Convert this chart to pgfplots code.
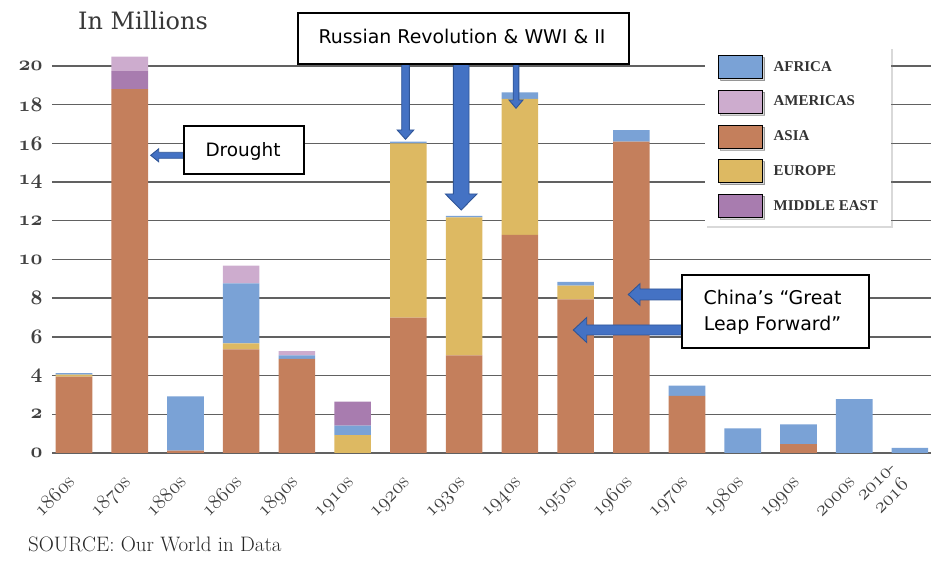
\documentclass[border=0pt]{standalone}
\usepackage{pgfplots}
\pgfplotsset{compat=1.18}
\usepackage{pgfplotstable}
\usepackage{fontspec}
\usetikzlibrary{shadows}
\newfontfamily\annotfont{DejaVu Sans}
\newfontfamily\legserif{Liberation Serif}
\newfontfamily\titleserif{DejaVu Serif}
\newcommand\osn[1]{{\usefont{OML}{cmm}{m}{it}#1}}
\newcommand\osnb[1]{{\usefont{OML}{cmm}{b}{it}#1}}
\definecolor{asia}{HTML}{C47F5C}
\definecolor{europe}{HTML}{DDB962}
\definecolor{africa}{HTML}{7AA2D6}
\definecolor{mideast}{HTML}{A87CAF}
\definecolor{americas}{HTML}{CDACCE}
\definecolor{arrowfill}{HTML}{4472C4}
\definecolor{arrowedge}{HTML}{2F5597}
\pgfplotstableread{
x Asia Europe Africa ME Americas
0 3.95 0.10 0.08 0 0
1 18.80 0 0 0.94 0.74
2 0.12 0 2.80 0 0
3 5.36 0.31 3.10 0 0.91
4 4.86 0 0.19 0 0.22
5 0 0.93 0.48 1.24 0
6 7.00 9.00 0.09 0 0
7 5.05 7.13 0.07 0 0
8 11.27 7.03 0.34 0 0
9 7.94 0.71 0.20 0 0
10 16.09 0 0.60 0 0
11 2.95 0 0.53 0 0
12 0 0 1.27 0 0
13 0.46 0 1.02 0 0
14 0 0 2.79 0 0
15 0 0 0.26 0 0
}\famine
\pgfplotsset{legsw/.style={legend image code/.code={\fill[##1] (0bp,-11.5bp) rectangle (44bp,11.5bp);}}}
\newcommand\harrow[6]{\filldraw[fill=arrowfill, draw=arrowedge, line width=0.9bp] (#1,#2-#4) -- (#3+#6,#2-#4) -- (#3+#6,#2-#5) -- (#3,#2) -- (#3+#6,#2+#5) -- (#3+#6,#2+#4) -- (#1,#2+#4) -- cycle;}
\newcommand\varrow[6]{\filldraw[fill=arrowfill, draw=arrowedge, line width=0.9bp] (#1-#4,#2) -- (#1-#4,#3-#6) -- (#1-#5,#3-#6) -- (#1,#3) -- (#1+#5,#3-#6) -- (#1+#4,#3-#6) -- (#1+#4,#2) -- cycle;}
\begin{document}
\begin{tikzpicture}
\useasboundingbox (0,0) rectangle (931bp,562bp);
\begin{axis}[
  at={(52bp,109bp)}, anchor=south west,
  scale only axis, width=879bp, height=406.35bp,
  xmin=-0.395, xmax=15.378, ymin=0, ymax=21,
  axis line style={draw=none}, major tick length=0pt,
  ybar stacked, bar width=36.6bp,
  ymajorgrids, grid style={black!62, line width=1.4bp},
  ytick={0,2,...,20},
  yticklabels={\osnb{0},\osnb{2},\osnb{4},\osnb{6},\osnb{8},\osnb{10},\osnb{12},\osnb{14},\osnb{16},\osnb{18},\osnb{20}},
  y tick label style={font=\fontsize{21}{21}\selectfont, text=black!75, anchor=east, xshift=-6bp},
  xtick={0,...,15},
  xticklabels={\osn{1860}s,\osn{1870}s,\osn{1880}s,\osn{1860}s,\osn{1890}s,\osn{1910}s,\osn{1920}s,\osn{1930}s,\osn{1940}s,\osn{1950}s,\osn{1960}s,\osn{1970}s,\osn{1980}s,\osn{1990}s,\osn{2000}s,{\osn{2010}-\\\osn{2016}}},
  x tick label style={font=\fontsize{21}{21}\selectfont, text=black!75, align=center, yshift=-28bp, xshift=4bp, rotate=45, anchor=base east},
  legend style={at={(0.743,1)}, anchor=north west, draw=none, fill=white,
    drop shadow={shadow xshift=2bp, shadow yshift=-2bp, opacity=0.3},
    font=\fontsize{15}{15}\selectfont\legserif\bfseries, text=black!80,
    inner xsep=13bp, inner ysep=8.5bp, row sep=11.3bp,
    nodes={inner sep=0bp},
    /tikz/every odd column/.style={column sep=11bp}},
  legend cell align=left,
]
\addplot[fill=asia, draw=none, forget plot] table[x=x, y=Asia]{\famine};
\addplot[fill=europe, draw=none, forget plot] table[x=x, y=Europe]{\famine};
\addplot[fill=africa, draw=none, forget plot] table[x=x, y=Africa]{\famine};
\addplot[fill=mideast, draw=none, forget plot] table[x=x, y=ME]{\famine};
\addplot[fill=americas, draw=none, forget plot] table[x=x, y=Americas]{\famine};
\addlegendimage{legsw, fill=africa}
\addlegendentry{AFRICA}
\addlegendimage{legsw, fill=americas}
\addlegendentry{AMERICAS}
\addlegendimage{legsw, fill=asia}
\addlegendentry{ASIA}
\addlegendimage{legsw, fill=europe}
\addlegendentry{EUROPE}
\addlegendimage{legsw, fill=mideast}
\addlegendentry{MIDDLE EAST}
\end{axis}
\begin{scope}[x=1bp, y=-1bp, yshift=562bp, every node/.style={inner sep=0pt}]
\node[anchor=base west, font=\titleserif\fontsize{24}{24}\selectfont, text=black!78] at (78,30) {In Millions};
\node[anchor=base west, font=\fontsize{21}{21}\selectfont, text=black!85] at (28,552) {SOURCE: Our World in Data};
% Drought
\harrow{184}{155.3}{150.7}{3}{6.5}{8}
\draw[fill=white, line width=1.2bp] (184,126) rectangle (304,174);
\node[anchor=base, font=\annotfont\fontsize{18.5}{18.5}\selectfont] at (243,157) {Drought};
% Russian revolution
\varrow{405.5}{64}{139.3}{3.8}{8.3}{9.3}
\varrow{461.2}{64}{210}{7.8}{15.8}{16}
\varrow{516}{64}{108.3}{2.8}{7}{8.3}
\draw[fill=white, line width=1.2bp] (298,13) rectangle (629,64);
\node[anchor=base, font=\annotfont\fontsize{19}{19}\selectfont] at (462,44) {Russian Revolution \& WWI \& II};
% China
\harrow{682}{294.5}{628.3}{5.5}{10.8}{11.7}
\harrow{682}{330}{573.3}{5}{12.5}{13.4}
\draw[fill=white, line width=1.2bp] (682,275) rectangle (869,348);
\node[anchor=base, font=\annotfont\fontsize{19}{19}\selectfont] at (772.5,304.3) {China’s “Great};
\node[anchor=base, font=\annotfont\fontsize{19}{19}\selectfont] at (772.5,331) {Leap Forward”};
\end{scope}
\end{tikzpicture}
\end{document}
